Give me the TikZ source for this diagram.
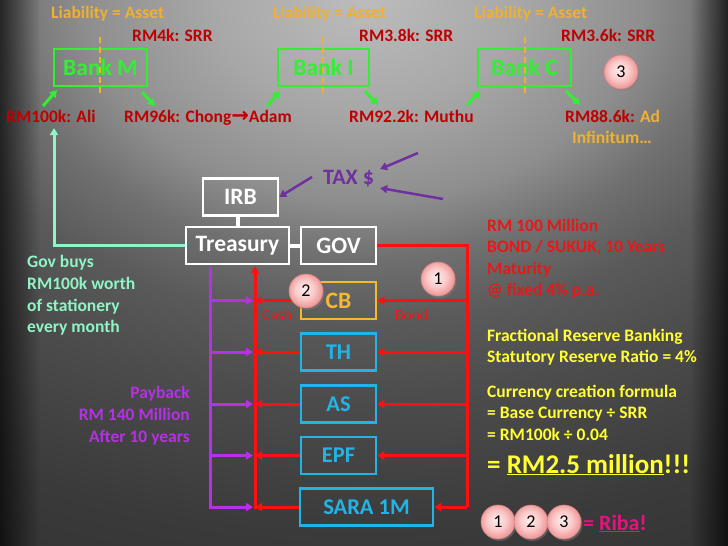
\documentclass[tikz,border=0pt]{standalone}
\usepackage{fontspec}
\setmainfont{Carlito}
\newfontfamily\djv{DejaVu Sans}
\usetikzlibrary{arrows.meta,fadings,shadows,calc}
\definecolor{bgA}{HTML}{BCBCBC}
\definecolor{bgA2}{HTML}{A8A8A8}
\definecolor{bgB}{HTML}{8E8E8E}
\definecolor{bgC}{HTML}{707070}
\definecolor{bgD}{HTML}{5A5A5A}
\definecolor{bgE}{HTML}{4C4C4C}
\definecolor{bgF}{HTML}{3A3A3A}
\definecolor{bgG}{HTML}{303030}
\definecolor{lia}{HTML}{F0B030}
\definecolor{dred}{HTML}{C00000}
\definecolor{bgreen}{HTML}{33EE33}
\definecolor{mint}{HTML}{8FF5C5}
\definecolor{tpurp}{HTML}{7030A0}
\definecolor{lred}{HTML}{FF1010}
\definecolor{rtxt}{HTML}{E81818}
\definecolor{cbor}{HTML}{F5B82E}
\definecolor{cyanb}{HTML}{22B4E6}
\definecolor{ppurp}{HTML}{B530E6}
\definecolor{yel}{HTML}{FFFF33}
\definecolor{pinkR}{HTML}{E5137E}
\definecolor{pinkA}{HTML}{FFEDED}
\definecolor{pinkM}{HTML}{FBCACA}
\definecolor{pinkB}{HTML}{EE9A9A}
\definecolor{pinkE}{HTML}{D88080}
\pgfdeclareradialshading{bgsh}{\pgfpointorigin}{color(0bp)=(bgA); color(3.95bp)=(bgA2); color(7.37bp)=(bgB); color(9.47bp)=(bgC); color(11.84bp)=(bgD); color(14.7bp)=(bgE); color(19.7bp)=(bgF); color(25bp)=(bgG); color(50bp)=(bgG)}
\pgfdeclareradialshading{circsh}{\pgfpoint{-3bp}{3bp}}{color(0bp)=(pinkA); color(14bp)=(pinkM); color(25bp)=(pinkB); color(50bp)=(pinkB)}
\tikzfading[name=fadeR, left color=transparent!35, right color=transparent!100]
\tikzfading[name=fadeL, left color=transparent!100, right color=transparent!30]
\tikzset{
  txt/.style={inner sep=0, anchor=base west, font=\fontsize{17.5}{21}\selectfont\bfseries},
  bankbox/.style={draw=bgreen, line width=2.5pt, text=bgreen, minimum width=93pt, minimum height=37pt, inner sep=0, font=\fontsize{23.5}{26}\selectfont\bfseries},
  wbox/.style={draw=white, line width=2.5pt, text=white, minimum height=37pt, inner sep=0, font=\fontsize{23.5}{26}\selectfont\bfseries},
  cbbox/.style={draw=cbor, line width=2.5pt, text=cbor, minimum width=75pt, minimum height=37pt, inner sep=0, font=\fontsize{23.5}{26}\selectfont\bfseries},
  cybox/.style={draw=cyanb, line width=2.5pt, text=cyanb, minimum height=37pt, inner sep=0, font=\fontsize{22.5}{26}\selectfont\bfseries},
  tipT/.tip={Triangle[length=7pt,width=8pt]},
  garr/.style={draw=bgreen, line width=3pt, -tipT},
  rline/.style={draw=lred, line width=3pt},
  rarr/.style={draw=lred, line width=3pt, -tipT},
  pline/.style={draw=ppurp, line width=3pt},
  parr/.style={draw=ppurp, line width=3pt, -tipT},
  tarr/.style={draw=tpurp, line width=2.5pt, -tipT},
  dashl/.style={draw=lia, line width=2pt, dash pattern=on 6pt off 4pt},
  numc/.style={circle, minimum size=34pt, inner sep=0, draw=pinkE, line width=0.6pt, shade, shading=circsh, drop shadow={opacity=0.45, shadow xshift=1.5pt, shadow yshift=-2pt}, font=\fontsize{18}{20}\selectfont, text=black},
}
\begin{document}
\begin{tikzpicture}[x=1pt,y=-1pt]
\useasboundingbox (0,0) rectangle (728,546);
% background
\begin{scope}
\clip (0,0) rectangle (728,546);
\fill[bgG] (0,0) rectangle (728,546);
\shade[shading=bgsh] (364,0) ellipse [x radius=950, y radius=679];
\fill[black, path fading=fadeR] (0,0) rectangle (40,546);
\fill[black, path fading=fadeL] (690,0) rectangle (728,546);
\end{scope}

% top row
\node[txt, text=lia] (lia1) at (51,18) {Liability = Asset};
\node[txt, text=lia] (lia2) at (273,18) {Liability = Asset};
\node[txt, text=lia] (lia3) at (474,18) {Liability = Asset};
\node[txt, text=dred] (srr1) at (132,41) {RM4k: SRR};
\node[txt, text=dred] (srr2) at (359,41) {RM3.8k: SRR};
\node[txt, text=dred] (srr3) at (561,41) {RM3.6k: SRR};

\node[bankbox] (bm) at (100.5,67.5) {Bank M};
\node[bankbox, minimum width=91pt] (bi) at (323.5,67.5) {Bank I};
\node[bankbox] (bc) at (524.5,67.5) {Bank C};
\draw[dashl] (100,37) -- (100,94);
\draw[dashl] (323,37) -- (323,94);
\draw[dashl] (525,37) -- (525,94);

\node[txt, text=dred] (ali) at (6,122) {RM100k: Ali};
\node[txt, text=dred] (chong) at (124,122) {RM96k: Chong{\djv\bfseries\fontsize{21}{20}\selectfont →}Adam};
\node[txt, text=dred] (muthu) at (349,122) {RM92.2k: Muthu};
\node[txt, text=dred] (ad) at (565,122) {RM88.6k: \textcolor{lia}{Ad}};
\node[txt, text=lia] (inf) at (572,143) {Infinitum…};

\coordinate (g1s) at (43,106); \coordinate (g1e) at (57,90);
\coordinate (g2s) at (142,92); \coordinate (g2e) at (155,106);
\coordinate (g3s) at (267,106); \coordinate (g3e) at (280,91);
\coordinate (g4s) at (365,91); \coordinate (g4e) at (378,105);
\coordinate (g5s) at (467,105); \coordinate (g5e) at (480,91);
\coordinate (g6s) at (566,91); \coordinate (g6e) at (580,105);
\draw[garr] (g1s) -- (g1e);
\draw[garr] (g2s) -- (g2e);
\draw[garr] (g3s) -- (g3e);
\draw[garr] (g4s) -- (g4e);
\draw[garr] (g5s) -- (g5e);
\draw[garr] (g6s) -- (g6e);

% government
\node[wbox, minimum width=75pt] (irb) at (240.5,197) {IRB};
\node[wbox, minimum width=103pt] (tre) at (237.5,245.5) {Treasury};
\node[wbox, minimum width=75pt] (gov) at (338.5,245.5) {GOV};
\draw[white, line width=4pt] (238,216) -- (238,227);
\draw[white, line width=4pt] (tre.east) -- (gov.west);

\node[inner sep=0, anchor=base west, text=tpurp, font=\fontsize{22}{26}\selectfont\bfseries] (tax) at (323,184) {TAX \$};
\coordinate (t1) at (312,177);
\coordinate (t2) at (418,153);
\coordinate (t3) at (443,199);
\draw[tarr] (t1) -- (irb.east);
\draw[tarr] (t2) -- ($(tax.east)+(6,-9)$);
\draw[tarr] (t3) -- ($(tax.east)+(6,10)$);

% mint line
\coordinate (aliup) at (54,128);
\draw[draw=mint, line width=3pt, -tipT] (tre.west) -| (aliup);
\node[txt, text=mint] (gb1) at (27,267) {Gov buys};
\node[txt, text=mint] (gb2) at (27,289) {RM100k worth};
\node[txt, text=mint] (gb3) at (27,311) {of stationery};
\node[txt, text=mint] (gb4) at (27,332) {every month};

% funds
\node[cbbox] (cb) at (338.5,300.5) {CB};
\node[cybox, minimum width=75pt] (th) at (338.5,352) {TH};
\node[cybox, minimum width=75pt] (as) at (338.5,404) {AS};
\node[cybox, minimum width=75pt] (epf) at (338.5,455.5) {EPF};
\node[cybox, minimum width=133pt] (sara) at (366.5,507) {SARA 1M};

\coordinate (rrb) at (467,507);
\coordinate (lrb) at (255,507);
\coordinate (pvb) at (210,507);
\coordinate (ptip) at (253,507);
\draw[rline] (gov.east) -| (rrb);
\draw[rarr] (rrb |- cb.east) -- (cb.east);
\draw[rarr] (rrb |- th.east) -- (th.east);
\draw[rarr] (rrb |- as.east) -- (as.east);
\draw[rarr] (rrb |- epf.east) -- (epf.east);
\draw[rarr] (rrb) -- (sara.east);
\draw[rarr] ($(lrb)+(0,1.5)$) -- ($(lrb |- tre.south)+(0,1)$);
\draw[rarr] (cb.west) -- (lrb |- cb.west);
\draw[rarr] (th.west) -- (lrb |- th.west);
\draw[rarr] (as.west) -- (lrb |- as.west);
\draw[rarr] (epf.west) -- (lrb |- epf.west);
\draw[rarr] (sara.west) -- (lrb);
\draw[pline] ($(pvb |- tre.south)+(0,2)$) -- ($(pvb)+(0,1.5)$);
\draw[parr] ($(pvb |- cb.west)+(-1.5,0)$) -- (ptip |- cb.west);
\draw[parr] ($(pvb |- th.west)+(-1.5,0)$) -- (ptip |- th.west);
\draw[parr] ($(pvb |- as.west)+(-1.5,0)$) -- (ptip |- as.west);
\draw[parr] ($(pvb |- epf.west)+(-1.5,0)$) -- (ptip |- epf.west);
\draw[parr] ($(pvb)+(-1.5,0)$) -- (ptip);

\node[inner sep=0, anchor=base west, text=lred, font=\fontsize{15.5}{18}\selectfont] (cash) at (262,320) {Cash};
\node[inner sep=0, anchor=base west, text=lred, font=\fontsize{15.5}{18}\selectfont] (bond) at (395,320) {Bond};

\node[txt, anchor=base east, text=ppurp] (pb1) at (190,398) {Payback};
\node[txt, anchor=base east, text=ppurp] (pb2) at (190,420) {RM 140 Million};
\node[txt, anchor=base east, text=ppurp] (pb3) at (190,442) {After 10 years};

% right texts
\node[txt, text=rtxt] (r1) at (487,231) {RM 100 Million};
\node[txt, text=rtxt] (r2) at (487,252) {BOND / SUKUK, 10 Years};
\node[txt, text=rtxt] (r3) at (487,274) {Maturity};
\node[txt, text=rtxt] (r4) at (487,295) {@ fixed 4\% p.a.};
\node[txt, text=yel] (y1) at (487,341) {Fractional Reserve Banking};
\node[txt, text=yel] (y2) at (487,362) {Statutory Reserve Ratio = 4\%};
\node[txt, text=yel] (y3) at (487,397) {Currency creation formula};
\node[txt, text=yel] (y4) at (487,418) {= Base Currency ÷ SRR};
\node[txt, text=yel] (y5) at (487,440) {= RM100k ÷ 0.04};
\node[txt, text=yel, font=\fontsize{27}{30}\selectfont\bfseries] (y6) at (487,473) {= \underline{RM2.5 million}!!!};

% numbered circles
\node[numc] (c3top) at (621,72) {3};
\node[numc] (c2) at (306,291) {2};
\node[numc] (c1) at (438,279) {1};
\node[numc] (b1) at (498,522) {1};
\node[numc] (b2) at (531,522) {2};
\node[numc] (b3) at (564,522) {3};
\node[txt, text=pinkR, font=\fontsize{22}{26}\selectfont\bfseries] (riba) at (583,530) {= \underline{Riba}!};
\end{tikzpicture}
\end{document}
